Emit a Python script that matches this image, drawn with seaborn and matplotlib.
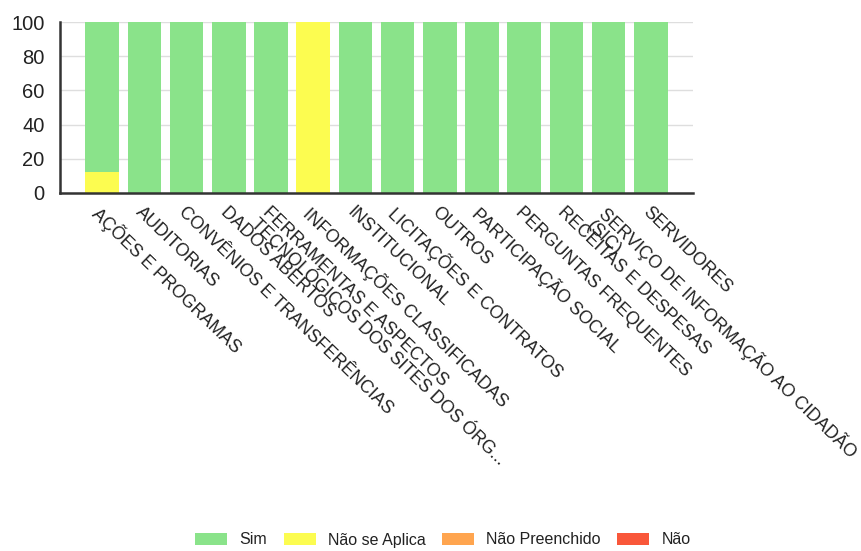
import matplotlib
matplotlib.use("Agg")
import matplotlib.pyplot as plt
from matplotlib.patches import Patch
import seaborn as sns
import pandas as pd

# ---- data ----
categories = [
    "AÇÕES E PROGRAMAS",
    "AUDITORIAS",
    "CONVÊNIOS E TRANSFERÊNCIAS",
    "DADOS ABERTOS",
    "FERRAMENTAS E ASPECTOS\nTECNOLÓGICOS DOS SITES DOS ÓRG...",
    "INFORMAÇÕES CLASSIFICADAS",
    "INSTITUCIONAL",
    "LICITAÇÕES E CONTRATOS",
    "OUTROS",
    "PARTICIPAÇÃO SOCIAL",
    "PERGUNTAS FREQUENTES",
    "RECEITAS E DESPESAS",
    "SERVIÇO DE INFORMAÇÃO AO CIDADÃO\n(SIC)",
    "SERVIDORES",
]
sim = [87.5, 100, 100, 100, 100, 0, 100, 100, 100, 100, 100, 100, 100, 100]
nao_se_aplica = [12.5, 0, 0, 0, 0, 100, 0, 0, 0, 0, 0, 0, 0, 0]
nao_preenchido = [0, 0, 0, 0, 0, 0, 0, 0, 0, 0, 0, 0, 0, 0]
nao = [0, 0, 0, 0, 0, 0, 0, 0, 0, 0, 0, 0, 0, 0]
y_ticks = [0, 20, 40, 60, 80, 100]
series_names = ["Sim", "Não se Aplica", "Não Preenchido", "Não"]
series_colors = ["#8ae38a", "#fcfc50", "#ffa54f", "#f9573a"]

# ---- style ----
sns.set_style("white")
plt.rcParams["font.family"] = ["Liberation Sans", "DejaVu Sans"]

df = pd.DataFrame({
    "cat": categories,
    "Sim": sim,
    "Não se Aplica": nao_se_aplica,
    "Não Preenchido": nao_preenchido,
    "Não": nao,
})
# cumulative stacking: Não at bottom, then Não Preenchido, Não se Aplica, Sim on top
df["c_nao"] = df["Não"]
df["c_np"] = df["c_nao"] + df["Não Preenchido"]
df["c_nsa"] = df["c_np"] + df["Não se Aplica"]
df["c_sim"] = df["c_nsa"] + df["Sim"]

fig = plt.figure(figsize=(8.62, 5.51), dpi=100)
ax = fig.add_axes([60 / 862, 1 - 193 / 551, 633 / 862, 171 / 551])

layers = [("c_sim", series_colors[0]), ("c_nsa", series_colors[1]),
          ("c_np", series_colors[2]), ("c_nao", series_colors[3])]
for col, colr in layers:
    sns.barplot(data=df, x="cat", y=col, order=categories, color=colr,
                saturation=1, width=0.8, linewidth=0, errorbar=None, ax=ax,
                zorder=2)

ax.set_xlim(-1, len(categories))
ax.set_ylim(0, 100)
ax.set_yticks(y_ticks)
ax.set_yticklabels([str(v) for v in y_ticks], fontsize=14.5, color="#222222")
ax.set_xticks(range(len(categories)))
ax.set_xticklabels(categories, rotation=-44, ha="left", va="top",
                   rotation_mode="anchor", fontsize=12.8, color="#222222",
                   linespacing=1.0)
ax.set_xticks([-1, len(categories)], minor=True)
ax.set_xlabel("")
ax.set_ylabel("")

ax.yaxis.grid(True, color="#dedede", linewidth=1, zorder=0)
ax.set_axisbelow(True)
for s in ["top", "right"]:
    ax.spines[s].set_visible(False)
for s in ["left", "bottom"]:
    ax.spines[s].set_color("#333333")
    ax.spines[s].set_linewidth(1.8)
ax.tick_params(axis="y", length=7, width=1, color="#999999", pad=4)
ax.tick_params(axis="x", which="both", length=5, width=1, color="#999999", pad=2.5)

handles = [Patch(facecolor=c, edgecolor="none") for c in series_colors]
fig.legend(handles, series_names, loc="center", ncol=4,
           bbox_to_anchor=(443 / 862, 1 - 540 / 551), frameon=False,
           fontsize=11.5, handlelength=2.0, handleheight=0.8,
           handletextpad=0.75, columnspacing=1.05, labelcolor="#222222")

fig.savefig("out.png", dpi=100)
